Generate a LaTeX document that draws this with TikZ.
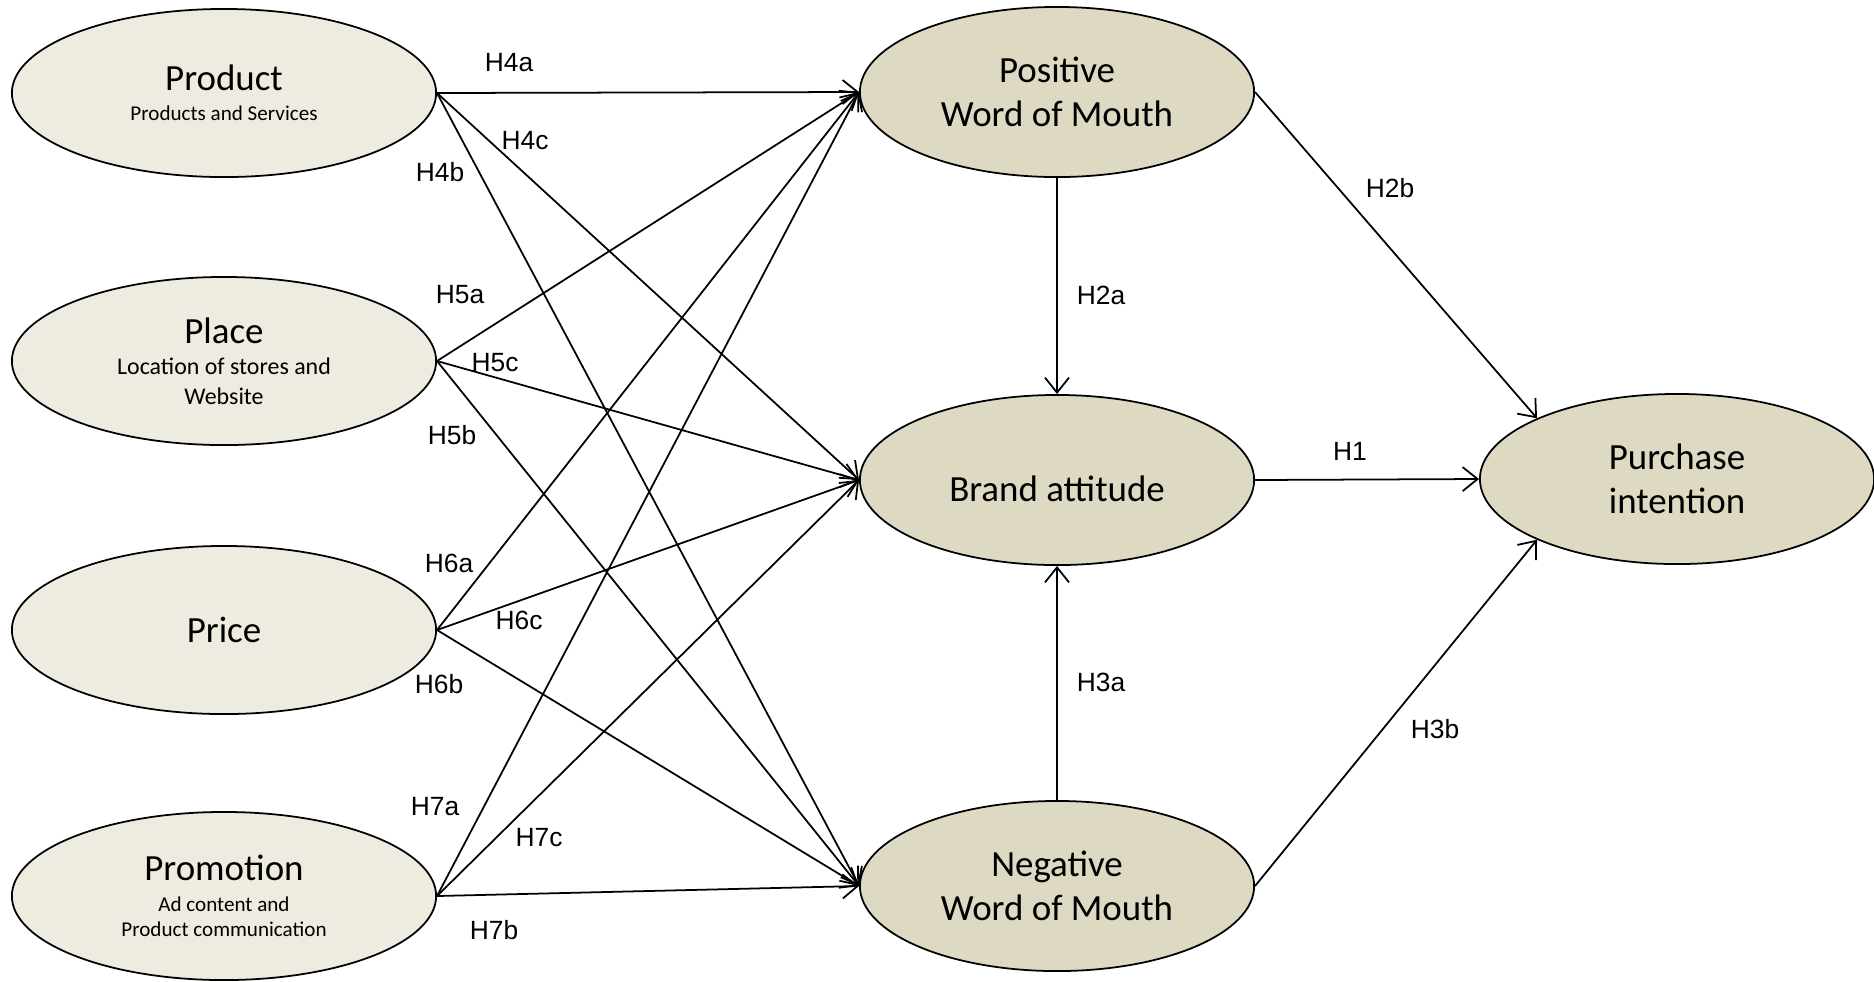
\documentclass[tikz,border=0pt]{standalone}
\usepackage{fontspec}
\setmainfont{Carlito}
\newfontfamily\hypfont{Liberation Sans}
\usetikzlibrary{arrows.meta,shapes.geometric}
\definecolor{mixbeige}{RGB}{238,236,225}
\definecolor{wombeige}{RGB}{221,217,195}
\tikzset{
    mixnode/.style={ellipse, draw=black, line width=0.5pt, fill=mixbeige, minimum width=4.24cm, minimum height=1.68cm, inner sep=0pt, align=center, font=\fontsize{6}{7.2}\selectfont},
    womnode/.style={ellipse, draw=black, line width=0.5pt, fill=wombeige, minimum width=3.94cm, minimum height=1.70cm, inner sep=0pt, align=center, font=\fontsize{10.5}{12.6}\selectfont},
    lowtext/.style={text depth=-6pt},
    hyp/.style={-{Straight Barb[length=1.5mm, width=2.4mm]}, line width=0.5pt},
    hyplabel/.style={font=\hypfont\fontsize{7.5}{9}\selectfont, inner sep=0pt}
}
\newcommand{\mixtitle}[1]{{\fontsize{10.5}{12}\selectfont #1}}
\newcommand{\mixsub}[1]{{\fontsize{6}{7.2}\selectfont #1}}
\newcommand{\mixsubl}[1]{{\fontsize{6.8}{8.2}\selectfont #1}}

\begin{document}
\begin{tikzpicture}[x=0.01cm, y=-0.01cm]
    \useasboundingbox (0,0) rectangle (1874,981);
    % vertices
    \node[mixnode, lowtext] (prod) at (224,93) {\mixtitle{Product}\\[1.4pt]\mixsub{Products and Services}};
    \node[mixnode, lowtext] (place) at (224,361) {\mixtitle{Place}\\[1.8pt]\mixsubl{Location of stores and}\\[1.3pt]\mixsubl{Website}};
    \node[mixnode] (price) at (224,630) {\mixtitle{Price}};
    \node[mixnode, lowtext] (promo) at (224,896) {\mixtitle{Promotion}\\[1.5pt]\mixsub{Ad content and}\\\mixsub{Product communication}};
    \node[womnode] (pos) at (1057,92) {Positive\\Word of Mouth};
    \node[womnode, text height=12pt, text depth=0pt] (brand) at (1057,480) {Brand attitude};
    \node[womnode] (neg) at (1057,886) {Negative\\Word of Mouth};
    \node[womnode] (pi) at (1677,479) {Purchase\\intention};
    % edge labels
    \node[hyplabel] (l4a) at (509,63) {H4a};
    \node[hyplabel] (l4c) at (525,141) {H4c};
    \node[hyplabel] (l4b) at (440,172) {H4b};
    \node[hyplabel] (l5a) at (460,295) {H5a};
    \node[hyplabel] (l5c) at (495,363) {H5c};
    \node[hyplabel] (l5b) at (452,435) {H5b};
    \node[hyplabel] (l6a) at (449,563) {H6a};
    \node[hyplabel] (l6c) at (519,620) {H6c};
    \node[hyplabel] (l6b) at (439,684) {H6b};
    \node[hyplabel] (l7a) at (435,807) {H7a};
    \node[hyplabel] (l7c) at (539,838) {H7c};
    \node[hyplabel] (l7b) at (494,930) {H7b};
    \node[hyplabel] (l2b) at (1390,188) {H2b};
    \node[hyplabel] (l2a) at (1101,295) {H2a};
    \node[hyplabel] (l1) at (1350,451) {H1};
    \node[hyplabel] (l3a) at (1101,682) {H3a};
    \node[hyplabel] (l3b) at (1435,729) {H3b};
    % marketing mix paths
    \foreach \src in {prod,place,price,promo}{
        \foreach \dst in {pos,brand,neg}{
            \draw[hyp] (\src.east) -- (\dst.west);
        }
    }
    % word of mouth paths
    \draw[hyp] (pos.south) -- (brand.north);
    \draw[hyp] (neg.north) -- (brand.south);
    \draw[hyp] (pos.east) -- (pi.north west);
    \draw[hyp] (brand.east) -- (pi.west);
    \draw[hyp] (neg.east) -- (pi.south west);
\end{tikzpicture}
\end{document}
